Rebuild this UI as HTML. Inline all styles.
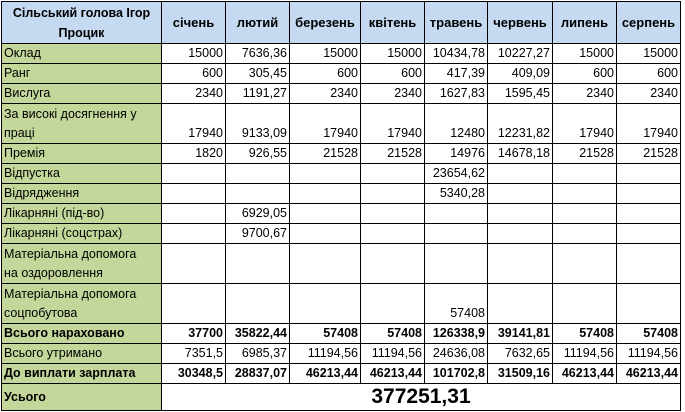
<!DOCTYPE html>
<html><head><meta charset="utf-8"><style>
body{margin:0;background:#fff;width:685px;height:412px;overflow:hidden}
table{position:absolute;left:1px;top:1px;border-collapse:collapse;table-layout:fixed;font-family:"Liberation Sans",sans-serif;font-size:12.5px;color:#000}
td{border:1px solid #000;padding:0 2px;text-align:right;vertical-align:bottom;line-height:19px;white-space:nowrap;overflow:hidden}
td.l{background:#c4d79b;text-align:left;white-space:normal}
tr.h td{background:#c5d9f1;font-weight:bold;text-align:center;vertical-align:middle;white-space:normal;line-height:20px;font-size:13px}
tr.b td{font-weight:bold}
tr.r td{height:19px}
tr.d td{height:39px}
</style></head><body>
<table>
<colgroup><col style="width:160px"><col style="width:64px"><col style="width:64px"><col style="width:71px"><col style="width:64px"><col style="width:63px"><col style="width:65px"><col style="width:64px"><col style="width:64px"></colgroup>
<tr class="h" style="height:42px"><td style="font-size:12.5px">Сільський голова Ігор<br>Процик</td><td>січень</td><td>лютий</td><td>березень</td><td>квітень</td><td>травень</td><td>червень</td><td>липень</td><td>серпень</td></tr>
<tr class="r"><td class="l">Оклад</td><td>15000</td><td>7636,36</td><td>15000</td><td>15000</td><td>10434,78</td><td>10227,27</td><td>15000</td><td>15000</td></tr>
<tr class="r"><td class="l">Ранг</td><td>600</td><td>305,45</td><td>600</td><td>600</td><td>417,39</td><td>409,09</td><td>600</td><td>600</td></tr>
<tr class="r"><td class="l">Вислуга</td><td>2340</td><td>1191,27</td><td>2340</td><td>2340</td><td>1627,83</td><td>1595,45</td><td>2340</td><td>2340</td></tr>
<tr class="d"><td class="l">За високі досягнення у<br>праці</td><td>17940</td><td>9133,09</td><td>17940</td><td>17940</td><td>12480</td><td>12231,82</td><td>17940</td><td>17940</td></tr>
<tr class="r"><td class="l">Премія</td><td>1820</td><td>926,55</td><td>21528</td><td>21528</td><td>14976</td><td>14678,18</td><td>21528</td><td>21528</td></tr>
<tr class="r"><td class="l">Відпустка</td><td></td><td></td><td></td><td></td><td>23654,62</td><td></td><td></td><td></td></tr>
<tr class="r"><td class="l">Відрядження</td><td></td><td></td><td></td><td></td><td>5340,28</td><td></td><td></td><td></td></tr>
<tr class="r"><td class="l">Лікарняні (під-во)</td><td></td><td>6929,05</td><td></td><td></td><td></td><td></td><td></td><td></td></tr>
<tr class="r"><td class="l">Лікарняні (соцстрах)</td><td></td><td>9700,67</td><td></td><td></td><td></td><td></td><td></td><td></td></tr>
<tr class="d"><td class="l">Матеріальна допомога<br>на оздоровлення</td><td></td><td></td><td></td><td></td><td></td><td></td><td></td><td></td></tr>
<tr class="d"><td class="l">Матеріальна допомога<br>соцпобутова</td><td></td><td></td><td></td><td></td><td>57408</td><td></td><td></td><td></td></tr>
<tr class="r b"><td class="l">Всього нараховано</td><td>37700</td><td>35822,44</td><td>57408</td><td>57408</td><td>126338,9</td><td>39141,81</td><td>57408</td><td>57408</td></tr>
<tr class="r"><td class="l">Всього утримано</td><td>7351,5</td><td>6985,37</td><td>11194,56</td><td>11194,56</td><td>24636,08</td><td>7632,65</td><td>11194,56</td><td>11194,56</td></tr>
<tr class="r b"><td class="l">До виплати зарплата</td><td>30348,5</td><td>28837,07</td><td>46213,44</td><td>46213,44</td><td>101702,8</td><td>31509,16</td><td>46213,44</td><td>46213,44</td></tr>
<tr class="b" style="height:27px"><td class="l" style="vertical-align:middle">Усього</td><td colspan="8" style="text-align:center;vertical-align:middle;font-size:21px;line-height:26px">377251,31</td></tr>
</table>
</body></html>
